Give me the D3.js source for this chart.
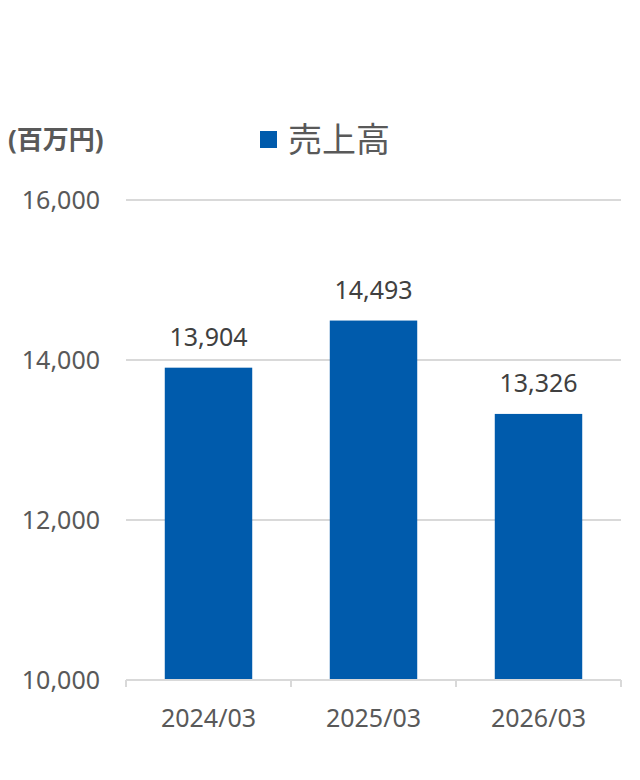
<!DOCTYPE html>
<html>
<head>
<meta charset="utf-8">
<script src="https://cdn.jsdelivr.net/npm/d3@7"></script>
<style>
  body { margin: 0; background: #fff; }
  text { font-family: "Noto Sans", "Noto Sans CJK JP", sans-serif; }
</style>
</head>
<body>
<svg id="chart" width="640" height="780"></svg>
<script>
// data
const categories = ["2024/03", "2025/03", "2026/03"];
const sales = [13904, 14493, 13326];
const yTicks = [10000, 12000, 14000, 16000];
const seriesName = "売上高";
const unitLabel = "(百万円)";

const svg = d3.select("#chart");
const margin = { left: 126, right: 19, top: 200, bottom: 100 };
const width = 640, height = 780;
const barColor = "#005bac";
const textColor = "#595959";
const fmt = d3.format(",");

// scales
const x = d3.scaleBand()
  .domain(categories)
  .range([margin.left, width - margin.right])
  .paddingInner(0.47)
  .paddingOuter(0.235);

const y = d3.scaleLinear()
  .domain([10000, 16000])
  .range([height - margin.bottom, margin.top]);

// gridlines
svg.append("g")
  .selectAll("line")
  .data(yTicks.slice(1))
  .enter().append("line")
  .attr("x1", margin.left)
  .attr("x2", width - margin.right)
  .attr("y1", d => y(d))
  .attr("y2", d => y(d))
  .attr("stroke", "#d9d9d9")
  .attr("stroke-width", 2);

// y axis labels
const yAxis = svg.append("g")
  .attr("transform", "translate(" + (margin.left - 26) + ",0)")
  .call(d3.axisLeft(y).tickValues(yTicks).tickFormat(fmt).tickSize(0).tickPadding(0));
yAxis.select(".domain").remove();
yAxis.selectAll("text")
  .attr("fill", textColor)
  .style("font-size", "25px");

// bars
svg.append("g")
  .selectAll("rect")
  .data(sales)
  .enter().append("rect")
  .attr("x", (d, i) => x(categories[i]))
  .attr("y", d => y(d))
  .attr("width", x.bandwidth())
  .attr("height", d => y(10000) - y(d))
  .attr("fill", barColor);

// value labels
svg.append("g")
  .selectAll("text")
  .data(sales)
  .enter().append("text")
  .attr("x", (d, i) => x(categories[i]) + x.bandwidth() / 2)
  .attr("y", d => y(d) - 22)
  .attr("text-anchor", "middle")
  .attr("fill", "#404040")
  .style("font-size", "25px")
  .text(d => fmt(d));

// x axis
const xEdge = d3.scalePoint()
  .domain(d3.range(categories.length + 1))
  .range([margin.left, width - margin.right]);
const base = y(10000);
svg.append("line")
  .attr("x1", margin.left).attr("x2", width - margin.right)
  .attr("y1", base).attr("y2", base)
  .attr("stroke", "#d9d9d9").attr("stroke-width", 2);
svg.append("g")
  .selectAll("line")
  .data(xEdge.domain())
  .enter().append("line")
  .attr("x1", d => xEdge(d)).attr("x2", d => xEdge(d))
  .attr("y1", base).attr("y2", base + 7)
  .attr("stroke", "#d9d9d9").attr("stroke-width", 2);

svg.append("g")
  .selectAll("text")
  .data(categories)
  .enter().append("text")
  .attr("x", d => x(d) + x.bandwidth() / 2)
  .attr("y", base + 47)
  .attr("text-anchor", "middle")
  .attr("fill", textColor)
  .style("font-size", "25px")
  .text(d => d);

// unit label
svg.append("text")
  .attr("x", 8)
  .attr("y", 149)
  .attr("fill", textColor)
  .style("font-size", "26px")
  .style("font-weight", "bold")
  .text(unitLabel);

// legend
svg.append("rect")
  .attr("x", 260).attr("y", 131)
  .attr("width", 17).attr("height", 17)
  .attr("fill", barColor);
svg.append("text")
  .attr("x", 288)
  .attr("y", 152)
  .attr("fill", textColor)
  .style("font-size", "34px")
  .text(seriesName);
</script>
</body>
</html>
